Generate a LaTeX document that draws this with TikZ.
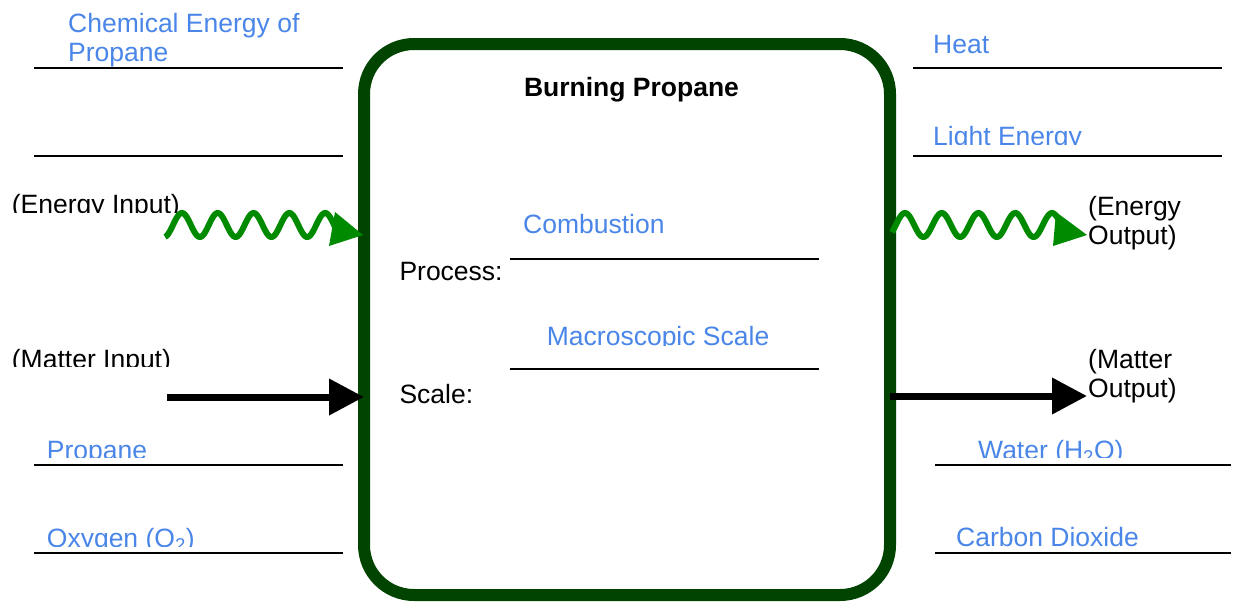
\documentclass[tikz,border=0pt]{standalone}
\usepackage{fontspec}
\setmainfont{Liberation Sans}
\usetikzlibrary{arrows.meta}
\definecolor{boxgreen}{RGB}{0,68,0}
\definecolor{wavegreen}{RGB}{0,138,0}
\definecolor{answer}{RGB}{74,134,232}

\begin{document}
\begin{tikzpicture}[x=1pt,y=-1pt,
  lbl/.style={anchor=base west, inner sep=0pt, font=\fontsize{26.5}{29.5}\selectfont},
  ans/.style={lbl, text=answer},
  blank/.style={line width=2.2pt, black},
  matter/.style={line width=7pt, -{Triangle[length=35pt,width=35pt]}},
  wave/.style={line width=6pt, wavegreen},
  wavehead/.style={fill=wavegreen},
]
\useasboundingbox (0,0) rectangle (1233,605);

% central process box
\node[draw=boxgreen, line width=12pt, rounded corners=50pt,
      minimum width=526pt, minimum height=551pt,
      outer sep=0pt, inner sep=0pt] (box) at (627,319.5) {};
\node[lbl, anchor=base, font=\fontsize{26.5}{29.5}\selectfont\bfseries] (title) at (631.5,96.5) {Burning Propane};

% process and scale blanks
\node[ans] (combustion) at (523,233.3) {Combustion};
\draw[blank] (510,259.3) -- (819,259.3);
\node[lbl] (process) at (399.3,280) {Process:};
\begin{scope}
  \clip (500,310) rectangle (830,345);
  \node[ans] (macro) at (546.7,345) {Macroscopic Scale};
\end{scope}
\draw[blank] (510,369.3) -- (819,369.3);
\node[lbl] (scale) at (399.3,403) {Scale:};

% energy input blanks
\node[ans] (chemA) at (68,32.3) {Chemical Energy of};
\node[ans] (chemB) at (68,61.7) {Propane};
\draw[blank] (34,68.3) -- (343,68.3);
\draw[blank] (34,156) -- (343,156);

% energy output blanks
\node[ans] (heat) at (933,53.3) {Heat};
\draw[blank] (913,68.3) -- (1222,68.3);
\begin{scope}
  \clip (920,110) rectangle (1225,144);
  \node[ans] (light) at (933,145) {Light Energy};
\end{scope}
\draw[blank] (913,156) -- (1222,156);

% matter input blanks
\begin{scope}
  \clip (30,425) rectangle (345,457.3);
  \node[ans] (propane) at (46.7,459) {Propane};
\end{scope}
\draw[blank] (34,465) -- (343,465);
\begin{scope}
  \clip (30,510) rectangle (345,546.7);
  \node[ans] (oxygen) at (46.7,547) {Oxygen (O\textsubscript{2})};
\end{scope}
\draw[blank] (34,553.3) -- (343,553.3);

% matter output blanks
\begin{scope}
  \clip (930,425) rectangle (1233,457.3);
  \node[ans] (water) at (978,459) {Water (H\textsubscript{2}O)};
\end{scope}
\draw[blank] (935,465) -- (1231,465);
\node[ans] (co2) at (956,546.7) {Carbon Dioxide};
\draw[blank] (935,553.3) -- (1231,553.3);

% energy input
\begin{scope}
  \clip (0,180) rectangle (220,212.5);
  \node[lbl] (ein) at (11.7,213) {(Energy Input)};
\end{scope}
\coordinate (einTip) at (363,235);
\draw[wave] plot[domain=165:336, samples=140, smooth] (\x,{225-12*sin(10.0559*(\x-173))});
\fill[wavehead] (335,212) -- (einTip) -- (329,246) -- cycle;

% energy output
\node[lbl] (eoutA) at (1088,215) {(Energy};
\node[lbl] (eoutB) at (1088,244) {Output)};
\coordinate (eoutTip) at (1087,235);
\draw[wave] plot[domain=892:1058, samples=140, smooth] (\x,{225-12*sin(9.7959*(\x-895.8))});
\fill[wavehead] (1056,212) -- (eoutTip) -- (1053,246) -- cycle;

% matter input
\begin{scope}
  \clip (0,340) rectangle (220,366.5);
  \node[lbl] (min) at (11.7,368) {(Matter Input)};
\end{scope}
\coordinate (minStart) at (167,397);
\draw[matter] (minStart) -- (minStart -| box.west);

% matter output
\node[lbl] (moutA) at (1088,368) {(Matter};
\node[lbl] (moutB) at (1088,397) {Output)};
\coordinate (moutTip) at (1087,396);
\draw[matter] (moutTip -| box.east) -- (moutTip);
\end{tikzpicture}
\end{document}
